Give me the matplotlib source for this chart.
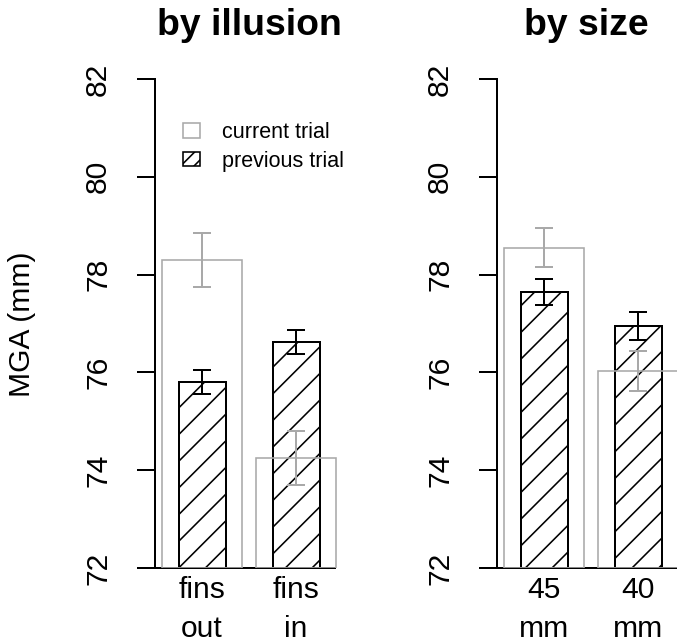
"""MGA by illusion and by size, current vs previous trial."""

import matplotlib

matplotlib.use("Agg")
import matplotlib.pyplot as plt
from matplotlib.patches import Patch

# values (mm)
illusion_labels = ["fins\nout", "fins\nin"]
illusion_current = [78.30, 74.25]
illusion_current_err = [0.55, 0.56]
illusion_previous = [75.80, 76.62]
illusion_previous_err = [0.25, 0.25]

size_labels = ["45\nmm", "40\nmm"]
size_current = [78.55, 76.03]
size_current_err = [0.40, 0.41]
size_previous = [77.64, 76.95]
size_previous_err = [0.27, 0.28]

y_ticks = [72, 74, 76, 78, 80, 82]

DPI = 160
W, H = 677, 643
GRAY = "#a9a9a9"


def pt(px):
    return px * 72.0 / DPI


plt.rcParams["font.family"] = ["Liberation Sans", "DejaVu Sans"]
plt.rcParams["hatch.linewidth"] = pt(1.6)
plt.rcParams["hatch.color"] = "black"

fig = plt.figure(figsize=(W / DPI, H / DPI), dpi=DPI)

unit = 94.0  # px per bar slot
bottom_px, top_px = 568, 79


def draw_panel(left_px, xmax, labels, cur, cur_err, prev, prev_err, title):
    xmin = -0.5
    ax = fig.add_axes([left_px / W, (H - bottom_px) / H,
                       (xmax - xmin) * unit / W, (bottom_px - top_px) / H])
    xs = list(range(len(labels)))
    ax.bar(xs, [p - 72 for p in prev], width=0.5, bottom=72, color="white",
           edgecolor="black", linewidth=pt(2.0), hatch="//", zorder=2)
    ax.bar(xs, [c - 72 for c in cur], width=0.85, bottom=72, color="none",
           edgecolor=GRAY, linewidth=pt(1.6), zorder=3)
    ax.errorbar(xs, prev, yerr=prev_err, fmt="none", ecolor="black",
                elinewidth=pt(2.0), capsize=pt(9), capthick=pt(2.0), zorder=4)
    ax.errorbar(xs, cur, yerr=cur_err, fmt="none", ecolor=GRAY,
                elinewidth=pt(2.0), capsize=pt(9), capthick=pt(2.0), zorder=4)
    ax.set_xlim(xmin, xmax)
    ax.set_ylim(72, 82)
    ax.set_yticks(y_ticks)
    ax.set_yticklabels([str(t) for t in y_ticks], rotation=90, va="center")
    ax.set_xticks(xs)
    ax.set_xticklabels(labels, linespacing=1.5)
    ax.tick_params(axis="y", length=pt(18), width=pt(2), pad=pt(25),
                   labelsize=pt(30))
    ax.tick_params(axis="x", length=0, pad=pt(8), labelsize=pt(30))
    for s in ["top", "right"]:
        ax.spines[s].set_visible(False)
    ax.spines["left"].set_linewidth(pt(2))
    ax.spines["bottom"].set_linewidth(pt(2))
    ax.spines["left"].set_zorder(5)
    ax.set_title(title, fontsize=pt(37.4), fontweight="bold", pad=pt(44))
    return ax


ax1 = draw_panel(155, 1.5, illusion_labels, illusion_current,
                 illusion_current_err, illusion_previous,
                 illusion_previous_err, "by illusion")
ax1.spines["bottom"].set_bounds(-0.5, 1.42)
ax2 = draw_panel(497, 1.41, size_labels, size_current, size_current_err,
                 size_previous, size_previous_err, "by size")

fig.text(22 / W, 1 - 324 / H, "MGA (mm)", rotation=90, ha="center",
         va="center", fontsize=pt(30))

handles = [
    Patch(facecolor="white", edgecolor=GRAY, linewidth=pt(1.6)),
    Patch(facecolor="white", edgecolor="black", linewidth=pt(1.6),
          hatch="////"),
]
ax1.legend(handles, ["current trial", "previous trial"], loc="upper left",
           bbox_to_anchor=(28 / 188, (bottom_px - 122) / (bottom_px - top_px)),
           frameon=False, borderpad=0, borderaxespad=0, fontsize=pt(21.5),
           handlelength=0.8, handleheight=0.65, handletextpad=1.0,
           labelspacing=0.35)

fig.savefig("out.png", dpi=DPI)
plt.close(fig)
